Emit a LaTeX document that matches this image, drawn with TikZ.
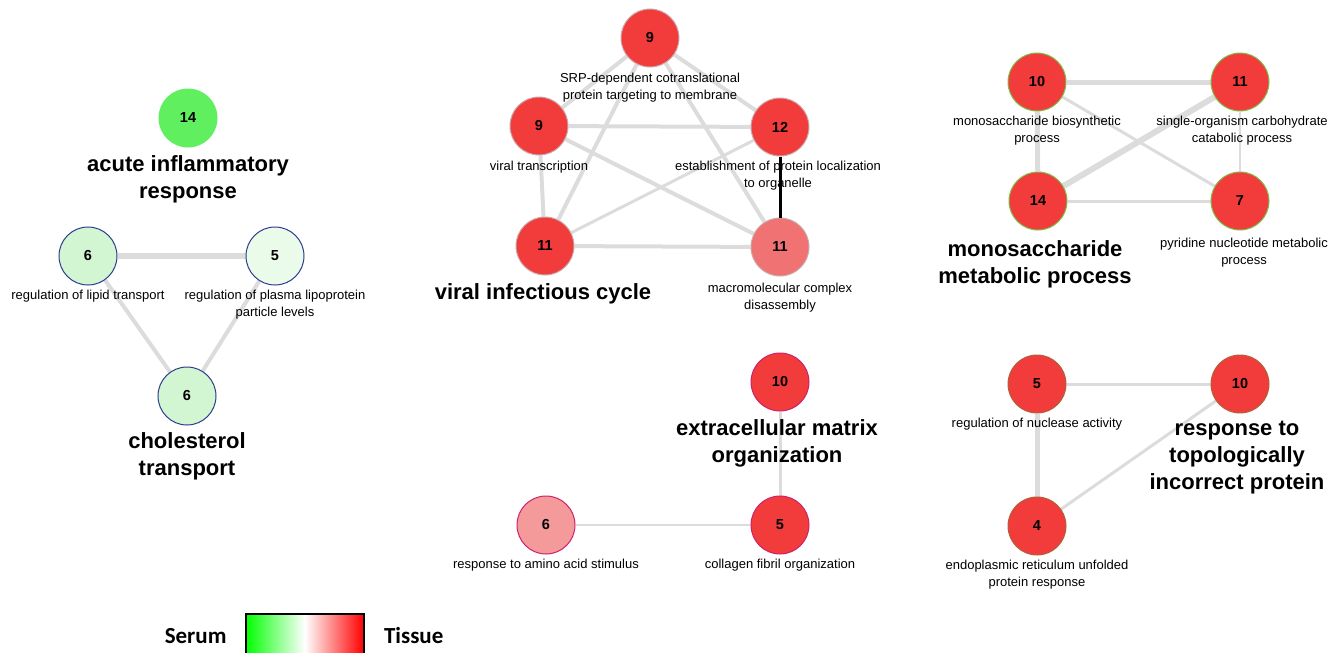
\documentclass[tikz,border=0pt]{standalone}
\usepackage{fontspec}
\setmainfont{Liberation Sans}
\newfontfamily\legendfont{Carlito}
\usetikzlibrary{positioning, backgrounds}
\definecolor{hitred}{HTML}{F23B3B}
\definecolor{midred}{HTML}{F07272}
\definecolor{softred}{HTML}{F59A9A}
\definecolor{hitgreen}{HTML}{5FEF5F}
\definecolor{midgreen}{HTML}{D2F5D2}
\definecolor{softgreen}{HTML}{EAFBEA}
\definecolor{navyrim}{HTML}{2E3B8F}
\definecolor{greyrim}{HTML}{C9A9A9}
\definecolor{greenrim}{HTML}{7DBF4A}
\definecolor{crimsonrim}{HTML}{D0206A}
\definecolor{brownrim}{HTML}{B0603A}
\definecolor{edgegrey}{HTML}{DCDCDC}

\begin{document}
\begin{tikzpicture}[
    x=1pt, y=-1pt,
    term/.style 2 args={circle, fill=#1, draw=#2, line width=1pt,
                        minimum size=58pt, inner sep=0pt,
                        font=\fontsize{14.5}{16}\selectfont\bfseries},
    lab/.style={font=\fontsize{13}{17.5}\selectfont, align=center, inner sep=0pt},
    headline/.style={font=\fontsize{22}{27}\selectfont\bfseries, align=center, inner sep=0pt},
    link/.style={draw=edgegrey, line width=#1},
    link/.default=3pt
]
\useasboundingbox (0,0) rectangle (1328,653);

% Nodes: lipid cluster
\node[term={hitgreen}{hitgreen}] (acute) at (188,118) {14};
\node[headline, below=8pt of acute] (acutelab) {acute inflammatory\\response};
\node[term={midgreen}{navyrim}] (lipid) at (88,256) {6};
\node[lab, below=4pt of lipid] (lipidlab) {regulation of lipid transport};
\node[term={softgreen}{navyrim}] (plasma) at (275,256) {5};
\node[lab, below=4pt of plasma] (plasmalab) {regulation of plasma lipoprotein\\particle levels};
\node[term={midgreen}{navyrim}] (chol) at (187,396) {6};
\node[headline, below=7pt of chol] (chollab) {cholesterol\\transport};

% Nodes: viral cluster
\node[term={hitred}{greyrim}] (srp) at (650,38) {9};
\node[lab, below=5pt of srp] (srplab) {SRP-dependent cotranslational\\protein targeting to membrane};
\node[term={hitred}{greyrim}] (vtrans) at (539,126) {9};
\node[lab, below=5pt of vtrans] (vtranslab) {viral transcription};
\node[term={hitred}{greyrim}] (estab) at (780,127) {12};
\node[lab, below=4pt of estab, xshift=-2pt] (establab) {establishment of protein localization\\to organelle};
\node[term={hitred}{greyrim}] (vcycle) at (545,246) {11};
\node[headline, below=8pt of vcycle, xshift=-2pt] (vcyclelab) {viral infectious cycle};
\node[term={midred}{greyrim}] (macro) at (780,247) {11};
\node[lab, below=6pt of macro] (macrolab) {macromolecular complex\\disassembly};

% Nodes: monosaccharide cluster
\node[term={hitred}{greenrim}] (mbio) at (1037,82) {10};
\node[lab, below=4pt of mbio] (mbiolab) {monosaccharide biosynthetic\\process};
\node[term={hitred}{greenrim}] (scarb) at (1240,82) {11};
\node[lab, below=4pt of scarb, xshift=2pt] (scarblab) {single-organism carbohydrate\\catabolic process};
\node[term={hitred}{greenrim}] (mmeta) at (1038,201) {14};
\node[headline, below=10pt of mmeta, xshift=-3pt] (mmetalab) {monosaccharide\\metabolic process};
\node[term={hitred}{greenrim}] (pyri) at (1240,201) {7};
\node[lab, below=7pt of pyri, xshift=4pt] (pyrilab) {pyridine nucleotide metabolic\\process};

% Nodes: matrix cluster
\node[term={hitred}{crimsonrim}] (ecm) at (780,382) {10};
\node[headline, below=8pt of ecm, xshift=-3pt] (ecmlab) {extracellular matrix\\organization};
\node[term={hitred}{crimsonrim}] (coll) at (780,525) {5};
\node[lab, below=4pt of coll] (colllab) {collagen fibril organization};
\node[term={softred}{crimsonrim}] (amino) at (546,525) {6};
\node[lab, below=4pt of amino] (aminolab) {response to amino acid stimulus};

% Nodes: protein response cluster
\node[term={hitred}{brownrim}] (nucl) at (1037,384) {5};
\node[lab, below=4pt of nucl] (nucllab) {regulation of nuclease activity};
\node[term={hitred}{brownrim}] (topo) at (1240,384) {10};
\node[headline, below=7pt of topo, xshift=-3pt] (topolab) {response to\\topologically\\incorrect protein};
\node[term={hitred}{brownrim}] (unfold) at (1037,526) {4};
\node[lab, below=4pt of unfold] (unfoldlab) {endoplasmic reticulum unfolded\\protein response};

% Legend
\node[draw=black, line width=1.5pt, minimum width=118pt, minimum height=42pt,
      inner sep=0pt, shading=axis, left color=green, right color=red,
      middle color=white, anchor=north west] (scale) at (245,613) {};
\node[font=\fontsize{23}{26}\selectfont\legendfont\bfseries, left=15pt of scale.west,
      yshift=-1pt, anchor=east] (serum) {Serum};
\node[font=\fontsize{23}{26}\selectfont\legendfont\bfseries, right=16pt of scale.east,
      yshift=-1pt, anchor=west] (tissue) {Tissue};

% Links
\begin{scope}[on background layer]
\draw[link=6pt] (lipid) -- (plasma);
\draw[link=4pt] (lipid) -- (chol);
\draw[link=4pt] (plasma) -- (chol);

\draw[link=4pt] (srp) -- (vtrans);
\draw[link=4pt] (srp) -- (estab);
\draw[link=4pt] (srp) -- (vcycle);
\draw[link=4pt] (srp) -- (macro);
\draw[link=4pt] (vtrans) -- (estab);
\draw[link=4pt] (vtrans) -- (macro);
\draw[link=4pt] (vtrans) -- (vcycle);
\draw[link=3pt] (estab) -- (vcycle);
\draw[link=4pt] (vcycle) -- (macro);

\draw[link=5pt] (mbio) -- (scarb);
\draw[link=5pt] (mbio) -- (mmeta);
\draw[link=3pt] (mbio) -- (pyri);
\draw[link=6pt] (scarb) -- (mmeta);
\draw[link=2pt] (scarb) -- (pyri);
\draw[link=3pt] (mmeta) -- (pyri);

\draw[link=3pt] (ecm) -- (coll);
\draw[link=2pt] (amino) -- (coll);

\draw[link=3pt] (nucl) -- (topo);
\draw[link=5pt] (nucl) -- (unfold);
\draw[link=3pt] (unfold) -- (topo);
\end{scope}
\draw[line width=3pt] (estab) -- (macro);

\end{tikzpicture}
\end{document}
